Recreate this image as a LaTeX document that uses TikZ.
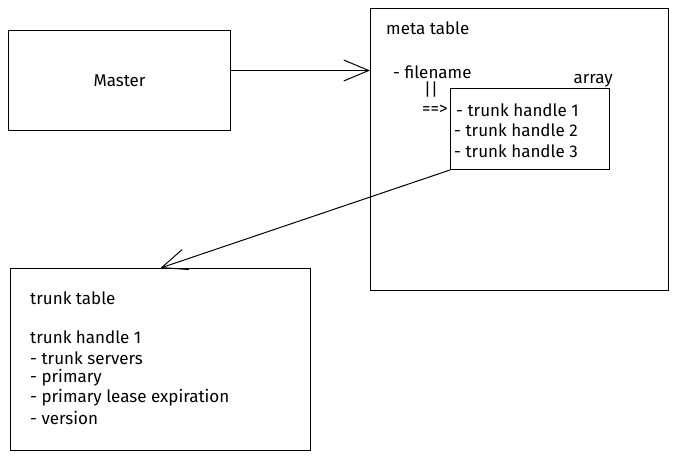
\documentclass[tikz,border=0pt]{standalone}
\usepackage{fontspec}
\setmainfont{Fira Sans}
\usetikzlibrary{arrows.meta}

\begin{document}
\begin{tikzpicture}[x=1pt, y=-1pt,
    box/.style={draw, line width=1pt, minimum width=#1, anchor=north west, inner sep=0pt},
    txt/.style={anchor=west, inner sep=0pt, font=\fontsize{17}{20}\selectfont},
    barb/.style={-{Straight Barb[length=25pt, width=21pt, line width=1pt]}, line width=1pt}]
			% Fix the page size
			\useasboundingbox[fill=white] (0,0) rectangle (680,460);

			% Draw the master box
			\node[box=222pt, minimum height=100pt] (master) at (8,30) {};
			\node[txt, anchor=center] (mastertxt) at (master.center) {Master};

			% Draw the meta table box
			\node[box=298pt, minimum height=282pt] (meta) at (370,8) {};
			\node[txt] (metatitle) at (386,28) {meta table};
			\node[txt] (filename) at (393,72) {- filename};
			\node[txt] (bars) at (424,90) {||};
			\node[txt] (eqarrow) at (422,110) {==>};

			% Draw the array box inside
			\node[box=159pt, minimum height=81pt] (array) at (450,88) {};
			\node[txt, anchor=south east] (arraytxt) at (613,87) {array};
			\node[txt] (handleA) at (456,110) {- trunk handle 1};
			\node[txt] (handleB) at (454,130) {- trunk handle 2};
			\node[txt] (handleC) at (454,151) {- trunk handle 3};

			% Draw the trunk table box
			\node[box=300pt, minimum height=182pt] (trunk) at (10,268) {};
			\node[txt] (trunktitle) at (30,298) {trunk table};
			\node[txt] (handle) at (30,337) {trunk handle 1};
			\node[txt] (servers) at (30,358) {- trunk servers};
			\node[txt] (primary) at (30,378) {- primary};
			\node[txt] (lease) at (30,398) {- primary lease expiration};
			\node[txt] (version) at (30,418) {- version};

			% Draw the arrows
			\coordinate (masterout) at ([yshift=10pt]master.east);
			\draw[barb] (masterout) -- (masterout -| meta.west);
			\draw[barb] (array.south west) -- (trunk.north);
		\end{tikzpicture}
\end{document}
